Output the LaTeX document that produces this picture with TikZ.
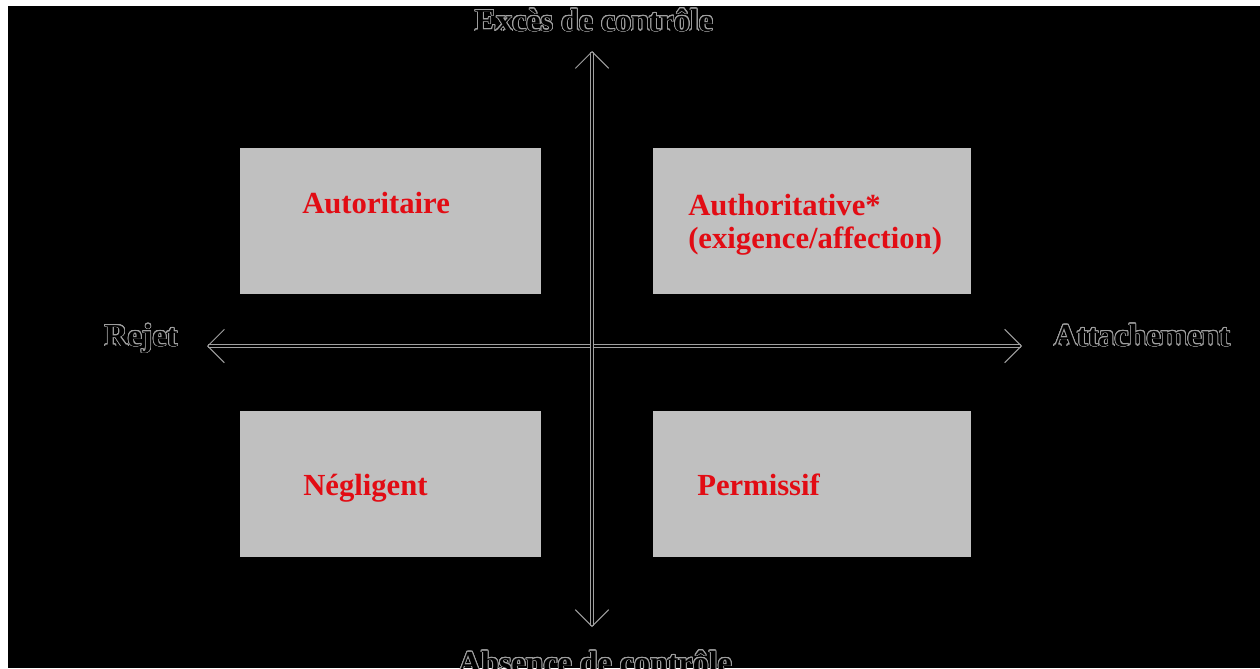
\documentclass[tikz,border=0pt]{standalone}
\usepackage{fontspec}
\setmainfont{Liberation Serif}
\usepackage[copies]{contour}
\contourlength{0.6pt}
\contournumber{24}
\usetikzlibrary{arrows.meta}
\definecolor{boxgray}{RGB}{192,192,192}
\definecolor{textred}{RGB}{226,12,20}
\definecolor{axisgray}{RGB}{160,160,160}

\begin{document}
\begin{tikzpicture}[x=0.75pt, y=-0.75pt,
    quad/.style={fill=boxgray, inner sep=0pt, minimum height=109.5pt},
    kind/.style={text=textred, inner sep=0pt, align=left, font=\fontsize{23}{24.75}\selectfont\bfseries},
    pole/.style={text=black, inner sep=0pt, anchor=base, font=\fontsize{24}{26}\selectfont\bfseries},
    axis/.style={draw=axisgray, line width=0.7pt, double=black, double distance=1.6pt,
        {Straight Barb[length=12.5pt, width=25pt, line width=0.75pt]}-{Straight Barb[length=12.5pt, width=25pt, line width=0.75pt]}}]
    \useasboundingbox[fill=white] (0,0) rectangle (1260,668);
    \fill[black] (8,6) rectangle (1260,668);
    \node[quad, minimum width=225.75pt] (q1) at (390.5,221) {};
    \node[quad, minimum width=238.5pt] (q2) at (812,221) {};
    \node[quad, minimum width=225.75pt] (q3) at (390.5,484) {};
    \node[quad, minimum width=238.5pt] (q4) at (812,484) {};
    \node[kind, anchor=base west] (k1) at (302,213) {Autoritaire};
    \node[kind, anchor=north west] (k2) at (688,194) {Authoritative*\\(exigence/affection)};
    \node[kind, anchor=base west] (k3) at (303,495) {Négligent};
    \node[kind, anchor=base west] (k4) at (697,495) {Permissif};
    \coordinate (N) at (592,51);
    \coordinate (S) at (592,627);
    \coordinate (W) at (207,346);
    \coordinate (E) at (1022,346);
    \draw[axis] (W) -- (E);
    \draw[axis] (S) -- (N);
    \node[pole] (ctrl) at (594,31) {\contour{axisgray}{Excès de contrôle}};
    \node[pole] (noctrl) at (595,673) {\contour{axisgray}{Absence de contrôle}};
    \node[pole] (rej) at (141,346) {\contour{axisgray}{Rejet}};
    \node[pole] (att) at (1142,346) {\contour{axisgray}{Attachement}};
\end{tikzpicture}
\end{document}
